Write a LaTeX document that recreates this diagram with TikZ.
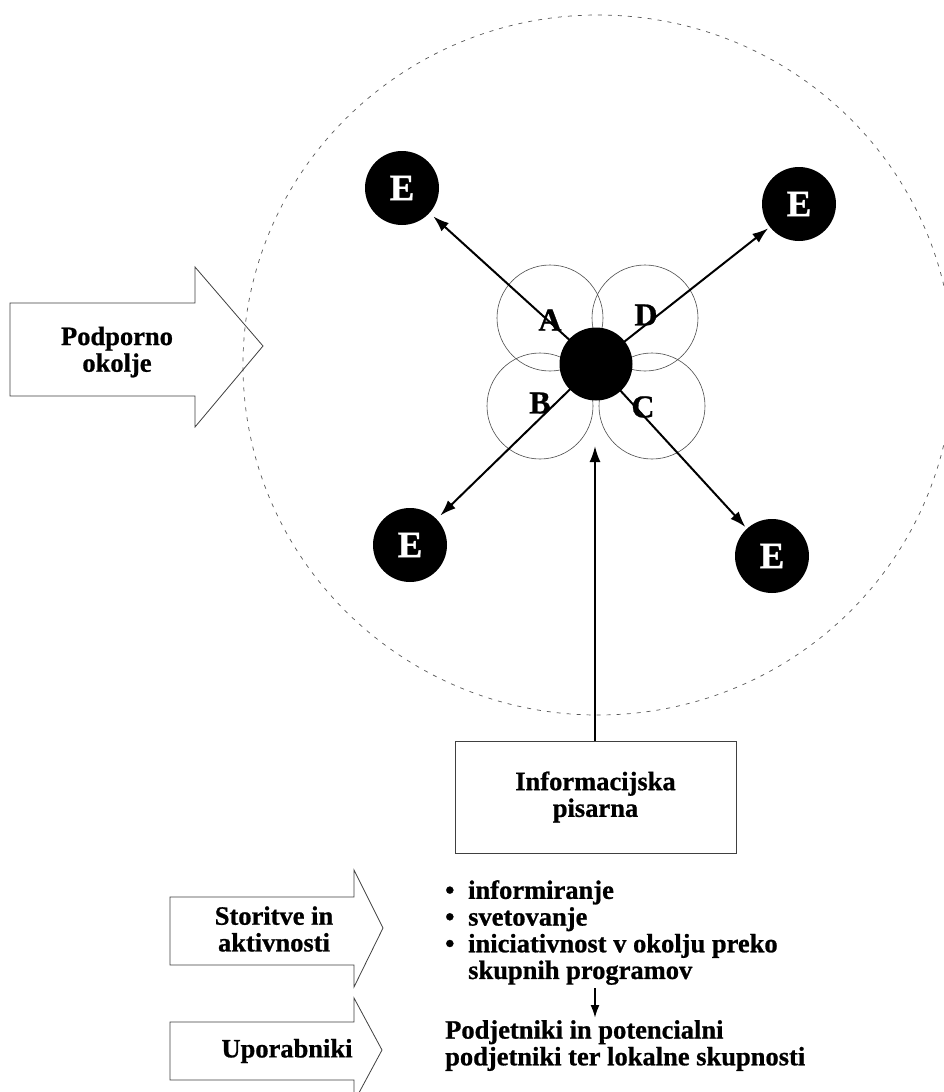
\documentclass[tikz,border=0pt]{standalone}
\usepackage{fontspec}
\setmainfont{Liberation Serif}[BoldFeatures={FakeBold=0.8}]
\usetikzlibrary{arrows.meta}
\begin{document}
\begin{tikzpicture}[x=1pt,y=-1pt,
  txt/.style={font=\bfseries\fontsize{26.5}{26.7}\selectfont, inner sep=0pt},
  outline/.style={draw=black!75, line width=0.8pt},
  petal/.style={circle, draw=black!70, line width=0.6pt, minimum size=106pt, inner sep=0pt},
  ent/.style={circle, fill=black, minimum size=74pt, inner sep=0pt, text=white,
              font=\bfseries\fontsize{37}{37}\selectfont},
  hubnode/.style={circle, fill=black, minimum size=73pt, inner sep=0pt},
  link/.style={line width=2pt, -{Latex[length=16pt,width=11pt]}},
  smalllink/.style={line width=2pt, -{Latex[length=13pt,width=9pt]}},
  letter/.style={font=\bfseries\fontsize{32}{32}\selectfont, inner sep=0pt},
]
\useasboundingbox (0,0) rectangle (944,1092);
\fill[white] (0,0) rectangle (944,1092);
\clip (0,0) rectangle (944,1092);

% supporting environment (dashed boundary)
\draw[black!65, line width=0.7pt, dash pattern=on 4pt off 6pt]
  (598,365) ellipse [x radius=355pt, y radius=350pt];

% block arrows on the left
\draw[outline] (10,303) -- (195,303) -- (195,267) -- (263,346) -- (195,427)
  -- (195,396) -- (10,396) -- cycle;
\draw[outline] (170,897) -- (354,897) -- (354,870) -- (383,928) -- (354,987)
  -- (354,965) -- (170,965) -- cycle;
\draw[outline] (170,1022) -- (354,1022) -- (354,998) -- (382,1050) -- (354,1102)
  -- (354,1080) -- (170,1080) -- cycle;

\node[txt, align=center] (support) at (117,352) {Podporno\\okolje};
\node[txt, align=center] (services) at (274,929) {Storitve in\\aktivnosti};
\node[txt] (userlabel) at (287,1051) {Uporabniki};

% four overlapping service areas
\node[petal] (pa) at (550,318) {};
\node[petal] (pd) at (645,318) {};
\node[petal] (pb) at (540,406) {};
\node[petal] (pc) at (652,406) {};

\node[letter] (la) at (550,320) {A};
\node[letter] (ld) at (646,315) {D};
\node[letter] (lb) at (540,403) {B};
\node[letter] (lc) at (643,407) {C};

% enterprises
\node[ent] (e1) at (402,188) {E};
\node[ent] (e2) at (799,204) {E};
\node[ent] (e3) at (410,545) {E};
\node[ent] (e4) at (772,556) {E};

\coordinate (hubc) at (596,364);
\draw[link, shorten >=5pt] (hubc) -- (e1);
\draw[link, shorten >=2pt] (hubc) -- (e2);
\draw[link, shorten >=5pt] (hubc) -- (e3);
\draw[link, shorten >=2pt] (hubc) -- (e4);
\node[hubnode] (hub) at (hubc) {};

% information office
\node[draw=black!75, line width=0.8pt, minimum width=281pt, minimum height=112pt,
      txt, align=center] (office) at (595.5,797) {Informacijska\\pisarna};
\coordinate (intake) at (595,446);
\draw[link] (office.north -| intake) -- (intake);

% activities and users
\node[txt, align=left, anchor=north west] (tasks) at (445,880)
  {\makebox[23pt][l]{\textbullet}informiranje\\
   \makebox[23pt][l]{\textbullet}svetovanje\\
   \makebox[23pt][l]{\textbullet}iniciativnost v okolju preko\\
   \hspace*{23pt}skupnih programov};
\node[txt, align=left, anchor=north west] (users) at (445,1020)
  {Podjetniki in potencialni\\podjetniki ter lokalne skupnosti};
\draw[smalllink, shorten <=3pt, shorten >=2pt]
  (tasks.south -| intake) -- (users.north -| intake);
\end{tikzpicture}
\end{document}
